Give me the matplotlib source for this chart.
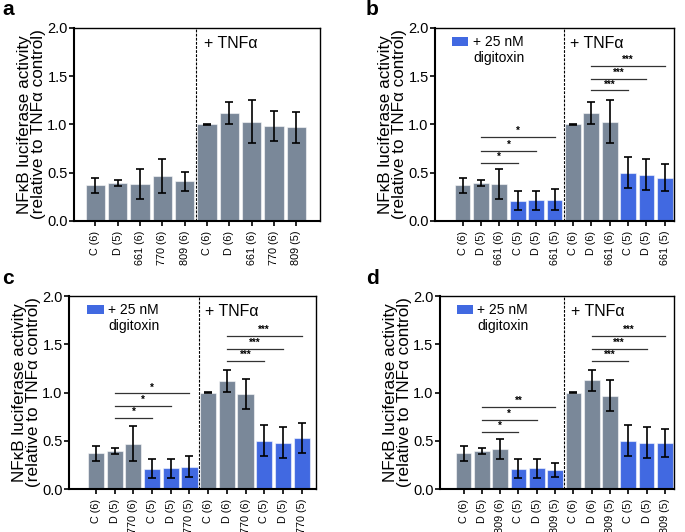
import matplotlib
matplotlib.use('Agg')
import matplotlib.pyplot as plt
from matplotlib.patches import Rectangle
import numpy as np

plt.rcParams['font.family'] = ['Liberation Sans', 'DejaVu Sans']

# ---------------- data ----------------
a_labels = ['C (6)', 'D (5)', '661 (6)', '770 (6)', '809 (6)',
            'C (6)', 'D (6)', '661 (6)', '770 (6)', '809 (5)']
a_vals = [0.37, 0.39, 0.38, 0.47, 0.41, 1.00, 1.12, 1.03, 0.985, 0.97]
a_err = [0.08, 0.03, 0.155, 0.175, 0.10, 0.003, 0.11, 0.22, 0.155, 0.16]
a_dig = [0, 0, 0, 0, 0, 0, 0, 0, 0, 0]

b_labels = ['C (6)', 'D (5)', '661 (6)', 'C (5)', 'D (5)', '661 (5)',
            'C (6)', 'D (6)', '661 (6)', 'C (5)', 'D (5)', '661 (5)']
b_vals = [0.37, 0.39, 0.38, 0.21, 0.215, 0.22, 1.00, 1.12, 1.03, 0.50, 0.48, 0.45]
b_err = [0.08, 0.03, 0.155, 0.10, 0.10, 0.11, 0.003, 0.11, 0.22, 0.16, 0.16, 0.14]
b_dig = [0, 0, 0, 1, 1, 1, 0, 0, 0, 1, 1, 1]
b_sig = [(1, 3, 0.605, '*'), (1, 4, 0.73, '*'), (1, 5, 0.868, '*'),
         (7, 9, 1.353, '***'), (7, 10, 1.474, '***'), (7, 11, 1.609, '***')]

c_labels = ['C (6)', 'D (5)', '770 (6)', 'C (5)', 'D (5)', '770 (5)',
            'C (6)', 'D (6)', '770 (6)', 'C (5)', 'D (5)', '770 (5)']
c_vals = [0.37, 0.39, 0.47, 0.21, 0.215, 0.23, 1.00, 1.12, 0.985, 0.50, 0.48, 0.53]
c_err = [0.08, 0.03, 0.18, 0.10, 0.10, 0.107, 0.003, 0.11, 0.157, 0.16, 0.16, 0.155]
c_dig = [0, 0, 0, 1, 1, 1, 0, 0, 0, 1, 1, 1]
c_sig = [(1, 3, 0.739, '*'), (1, 4, 0.86, '*'), (1, 5, 0.99, '*'),
         (7, 9, 1.33, '***'), (7, 10, 1.455, '***'), (7, 11, 1.585, '***')]

d_labels = ['C (6)', 'D (5)', '809 (6)', 'C (5)', 'D (5)', '809 (5)',
            'C (6)', 'D (6)', '809 (5)', 'C (5)', 'D (5)', '809 (5)']
d_vals = [0.37, 0.39, 0.415, 0.21, 0.215, 0.197, 1.00, 1.125, 0.967, 0.50, 0.48, 0.475]
d_err = [0.08, 0.03, 0.10, 0.10, 0.10, 0.077, 0.003, 0.11, 0.16, 0.16, 0.16, 0.142]
d_dig = [0, 0, 0, 1, 1, 1, 0, 0, 0, 1, 1, 1]
d_sig = [(1, 3, 0.594, '*'), (1, 4, 0.718, '*'), (1, 5, 0.85, '**'),
         (7, 9, 1.33, '***'), (7, 10, 1.45, '***'), (7, 11, 1.585, '***')]

GRAY = '#7a8899'
BLUE = '#4169e1'


def draw_panel(ax, labels, vals, err, dig, sig, xlim, legend):
    x = np.arange(len(vals))
    cols = [BLUE if d else GRAY for d in dig]
    ax.bar(x, vals, width=0.86, color=cols, edgecolor=(1, 1, 1, 0.55),
           linewidth=0.8, zorder=2)
    ax.errorbar(x, vals, yerr=err, fmt='none', ecolor='black', elinewidth=1.2,
                capsize=3.2, capthick=1.2, zorder=3)
    div = len(vals) / 2 - 0.5
    ax.axvline(div, color='black', lw=0.8, ls=(0, (2.5, 1.2)), zorder=1)
    ax.text(div + 0.35, 1.84, '+ TNFα', fontsize=11.5, va='center', ha='left')

    for s, e, y, stars in sig:
        ax.plot([s, e], [y, y], color='#333333', lw=0.9, zorder=3)
        ax.text((s + e) / 2, y + 0.01, stars, fontsize=7, ha='center',
                va='bottom', fontweight='bold')

    if legend:
        ax.add_patch(Rectangle((0.072, 0.905), 0.068, 0.05, transform=ax.transAxes,
                               facecolor=BLUE, edgecolor='none', clip_on=False))
        ax.text(0.16, 0.962, '+ 25 nM\ndigitoxin', transform=ax.transAxes,
                fontsize=10, ha='left', va='top', linespacing=1.15)

    ax.set_xlim(*xlim)
    ax.set_ylim(0, 2.0)
    ax.set_yticks([0, 0.5, 1.0, 1.5, 2.0])
    ax.set_yticklabels(['0.0', '0.5', '1.0', '1.5', '2.0'], fontsize=10.5)
    ax.set_xticks(x)
    ax.set_xticklabels(labels, rotation=90, fontsize=7.8)
    ax.tick_params(axis='both', direction='out', length=3.5, width=1.2)
    ax.tick_params(axis='y', pad=1)
    for side in ['left', 'bottom']:
        ax.spines[side].set_linewidth(1.5)
    for side in ['top', 'right']:
        ax.spines[side].set_linewidth(1.0)
    ax.set_ylabel('NFκB luciferase activity\n(relative to TNFα control)',
                  fontsize=12.3, linespacing=0.92, labelpad=1)


fig = plt.figure(figsize=(6.85, 5.32), dpi=100)
ax_a = fig.add_axes([0.108, 0.5846, 0.359, 0.3628])
ax_b = fig.add_axes([0.635, 0.5846, 0.349, 0.3628])
ax_c = fig.add_axes([0.1007, 0.0808, 0.360, 0.3628])
ax_d = fig.add_axes([0.642, 0.0808, 0.342, 0.3628])

draw_panel(ax_a, a_labels, a_vals, a_err, a_dig, [], (-0.95, 10.05), False)
draw_panel(ax_b, b_labels, b_vals, b_err, b_dig, b_sig, (-1.5, 11.5), True)
draw_panel(ax_c, c_labels, c_vals, c_err, c_dig, c_sig, (-1.45, 11.75), True)
draw_panel(ax_d, d_labels, d_vals, d_err, d_dig, d_sig, (-1.3, 11.5), True)

# panel letters
for letter, px, py in [('a', 2, 0), ('b', 366, 0), ('c', 2, 269), ('d', 366, 269)]:
    fig.text(px / 685, 1 - py / 532, letter, fontsize=15, fontweight='bold',
             ha='left', va='top')

fig.savefig('out.png', dpi=100)
